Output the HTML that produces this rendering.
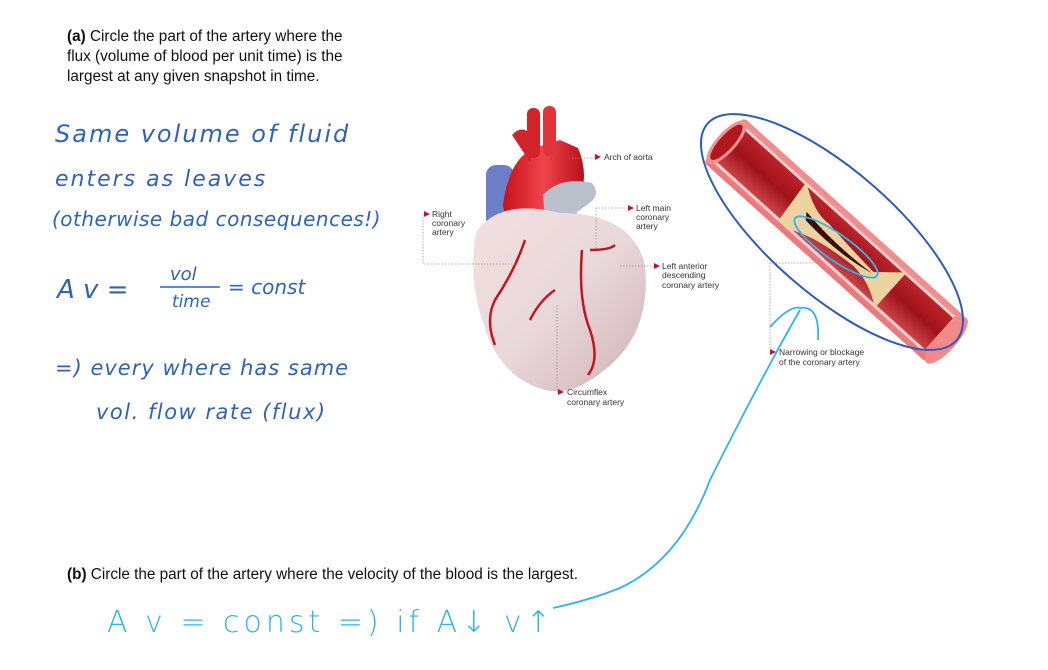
<!DOCTYPE html>
<html><head><meta charset="utf-8"><style>
html,body{margin:0;padding:0;background:#fff;}
svg{display:block}
</style></head><body>
<svg width="1048" height="670" viewBox="0 0 1048 670" xmlns="http://www.w3.org/2000/svg">
<defs>
<linearGradient id="heartG" x1="0" y1="0" x2="1" y2="1">
<stop offset="0" stop-color="#f3e0e0"/><stop offset="0.5" stop-color="#e9d8da"/><stop offset="1" stop-color="#cfb2b5"/>
</linearGradient>
<linearGradient id="aorta" x1="0" y1="0" x2="1" y2="0">
<stop offset="0" stop-color="#c8121a"/><stop offset="0.5" stop-color="#f0444a"/><stop offset="1" stop-color="#b8101a"/>
</linearGradient>
<linearGradient id="tube" x1="0" y1="0" x2="0" y2="1">
<stop offset="0" stop-color="#f28a8a"/><stop offset="0.5" stop-color="#f5a8a5"/><stop offset="1" stop-color="#ec7478"/>
</linearGradient>
<linearGradient id="lumen" x1="0" y1="0" x2="0" y2="1">
<stop offset="0" stop-color="#c0262c"/><stop offset="0.5" stop-color="#a0121a"/><stop offset="1" stop-color="#d04a4e"/>
</linearGradient>
</defs>

<g font-family="Liberation Sans, sans-serif" font-size="15.3" fill="#111">
<text x="67" y="41"><tspan font-weight="bold">(a)</tspan> Circle the part of the artery where the</text>
<text x="67" y="61">flux (volume of blood per unit time) is the</text>
<text x="67" y="81">largest at any given snapshot in time.</text>
<text x="67" y="579"><tspan font-weight="bold">(b)</tspan> Circle the part of the artery where the velocity of the blood is the largest.</text>
</g>

<g font-family="DejaVu Sans, sans-serif" font-weight="200" fill="#2f63b8" font-style="italic">
<text x="55" y="142" font-size="24" letter-spacing="2">Same  volume  of  fluid</text>
<text x="55" y="186" font-size="22" letter-spacing="2">enters   as   leaves</text>
<text x="52" y="226" font-size="20" letter-spacing="0.5">(otherwise bad consequences!)</text>
<text x="57" y="298" font-size="26">A v  =</text>
<text x="170" y="280" font-size="18">vol</text>
<line x1="160" y1="287" x2="220" y2="287" stroke="#2f63b8" stroke-width="1.5"/>
<text x="172" y="307" font-size="17">time</text>
<text x="228" y="294" font-size="20">= const</text>
<text x="55" y="375" font-size="21" letter-spacing="1">=) every where has same</text>
<text x="96" y="419" font-size="21" letter-spacing="1.5">vol. flow rate (flux)</text>
</g>
<g font-family="DejaVu Sans, sans-serif" font-weight="200" fill="#2cb3ee">
<text x="107" y="632" font-size="30" letter-spacing="4">A v = const  =) if A↓ v↑</text>
</g>

<!-- heart -->
<g>
<rect x="486" y="165" width="28" height="100" rx="10" fill="#6a7fc8"/>
<path d="M503 205 Q510 150 545 145 L560 140 L578 148 Q590 175 578 205 L562 280 L518 280Z" fill="url(#aorta)"/>
<rect x="527" y="108" width="13" height="50" rx="6" fill="#d2222a"/>
<rect x="543" y="106" width="13" height="50" rx="6" fill="#e0343a"/>
<path d="M512 135 Q524 122 535 140 L530 162Z" fill="#d2222a"/>
<path d="M543 195 Q560 176 592 183 Q602 195 587 205 L577 212 L572 255 L548 255Z" fill="#b9c0cc"/>
<path d="M476 232 Q500 198 560 213 Q632 213 645 265 Q652 335 602 372 Q570 397 545 390 Q498 377 483 322 Q468 280 476 232Z" fill="url(#heartG)"/>
<g stroke="#c0161e" stroke-width="2.5" fill="none">
<path d="M525 240 Q515 270 495 300 Q485 320 495 345"/>
<path d="M582 250 Q578 300 590 330 Q600 360 588 375"/>
<path d="M590 250 Q610 250 615 245"/>
<path d="M555 290 Q540 300 530 320"/>
</g>
</g>
<g font-family="Liberation Sans, sans-serif" font-size="8.5" fill="#333">
<text x="604" y="160">Arch of aorta</text>
<text x="432" y="217">Right</text><text x="432" y="226">coronary</text><text x="432" y="235">artery</text>
<text x="636" y="211">Left main</text><text x="636" y="220">coronary</text><text x="636" y="229">artery</text>
<text x="662" y="269">Left anterior</text><text x="662" y="278">descending</text><text x="662" y="288">coronary artery</text>
<text x="567" y="395">Circumflex</text><text x="567" y="405">coronary artery</text>
<text x="779" y="355">Narrowing or blockage</text><text x="779" y="365">of the coronary artery</text>
</g>
<g fill="#c8102e">
<path d="M595 154 l6 3 l-6 3z"/><path d="M424 211 l6 3 l-6 3z"/><path d="M628 205 l6 3 l-6 3z"/>
<path d="M654 263 l6 3 l-6 3z"/><path d="M558 389 l6 3 l-6 3z"/><path d="M770 349 l6 3 l-6 3z"/>
</g>
<g stroke="#999" stroke-width="0.8" stroke-dasharray="1.5 1.5" fill="none">
<path d="M572 158 H594"/><path d="M423 214 V264 H520"/><path d="M596 208 H627 M596 208 V250"/>
<path d="M620 266 H653"/><path d="M557 305 V392"/><path d="M770 263 V350 M770 263 H830"/>
</g>

<!-- artery -->
<g transform="translate(835,240) rotate(42)">
<rect x="-150" y="-30" width="300" height="60" rx="5" fill="url(#tube)"/>
<rect x="-145" y="-24" width="285" height="48" fill="url(#lumen)"/>
<rect x="-145" y="-24" width="285" height="3" fill="#f8d0d0"/>
<rect x="-145" y="21" width="285" height="3" fill="#f8d0d0"/>
<path d="M-60 -24 Q-35 -6 -15 -8 Q20 -4 50 -2 Q65 -15 75 -24 L75 24 Q55 8 30 7 Q-10 10 -30 18 Q-45 24 -55 24Z" fill="#ecd3a0"/>
<path d="M-40 -2 Q0 4 50 0 Q10 9 -35 5Z" fill="#3a0d0a"/>
<ellipse cx="-146" cy="0" rx="10" ry="28" fill="#f49090"/>
<ellipse cx="-146" cy="0" rx="7" ry="23" fill="#b01820"/>
<ellipse cx="150" cy="0" rx="10" ry="30" fill="#f28a8a"/>
</g>
<ellipse cx="832" cy="232" rx="165" ry="62" transform="rotate(41 832 232)" fill="none" stroke="#2a5bc0" stroke-width="2"/>
<ellipse cx="836" cy="247" rx="50" ry="13" transform="rotate(35 836 247)" fill="none" stroke="#30b4ee" stroke-width="1.8"/>
<g stroke="#30b4ee" stroke-width="1.8" fill="none">
<path d="M553 608 Q590 600 620 588 Q680 560 710 480 Q760 380 800 310"/>
<path d="M770 327 Q790 305 800 308 Q820 305 818 340"/>
</g>
</svg>
</body></html>
